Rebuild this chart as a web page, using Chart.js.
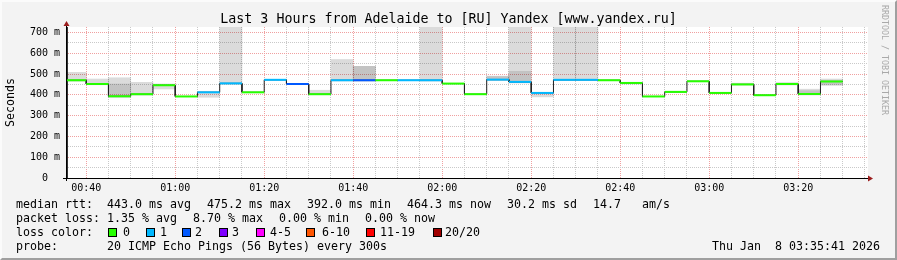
<!DOCTYPE html>
<html lang="en">
<head>
  <meta charset="UTF-8">
  <meta name="viewport" content="width=device-width, initial-scale=1.0">
  <title>Last 3 Hours from Adelaide to [RU] Yandex [www.yandex.ru]</title>
  <style>
    body{margin:0;background:#fff;}
    .frame{position:relative;width:897px;height:260px;background:#f3f3f3;overflow:hidden;
      font-family:'DejaVu Sans Mono',monospace;color:#000;}
    .frame canvas{position:absolute;left:0;top:0;}
    .edge{position:absolute;left:0;top:0;width:897px;height:260px;box-sizing:border-box;pointer-events:none;
      border-left:2px solid #fbfbfb;border-top:2px solid #fbfbfb;border-right:2px solid #9f9f9f;border-bottom:2px solid #9f9f9f;}
    .t{position:absolute;white-space:pre;font-size:11.63px;line-height:14px;}
    .title{position:absolute;left:0;width:897px;top:11px;text-align:center;font-size:13.3px;line-height:16px;white-space:pre;}
    .credit{position:absolute;left:880px;top:5px;writing-mode:vertical-rl;font-size:8.3px;line-height:10px;color:#a9a9a9;white-space:pre;}
    .box{position:absolute;top:228px;width:7px;height:7px;border:1px solid #000;}
  </style>
</head>
<body>
  <div class="frame">
    <canvas id="smoke" width="897" height="260"></canvas>
    <div class="title">Last 3 Hours from Adelaide to [RU] Yandex [www.yandex.ru]</div>
    <div class="credit">RRDTOOL / TOBI OETIKER</div>
    <div id="statLines"></div>
    <div class="t" style="left:16px;top:225px">loss color:</div>
    <div id="lossLegend"></div>
    <div class="t" style="left:16px;top:239px">probe:</div>
    <div class="t" style="left:107px;top:239px">20 ICMP Echo Pings (56 Bytes) every 300s</div>
    <div class="t" style="right:17px;top:239px">Thu Jan  8 03:35:41 2026</div>
    <div class="edge"></div>
  </div>

  <script src="https://cdn.jsdelivr.net/npm/chart.js"></script>
  <script type="text/javascript">
    // 5분 간격 샘플 (구간 끝 시각)
    const sampleTimes = ['00:40','00:45','00:50','00:55','01:00','01:05','01:10','01:15','01:20','01:25',
      '01:30','01:35','01:40','01:45','01:50','01:55','02:00','02:05','02:10','02:15',
      '02:20','02:25','02:30','02:35','02:40','02:45','02:50','02:55','03:00','03:05',
      '03:10','03:15','03:20','03:25','03:30'];
    // median rtt (ms)
    const medians = [470,452,393,403,446,392,412,455,412,472,
      452,403,470,470,470,470,470,454,403,473,
      462,409,472,472,470,457,392,414,465,409,
      450,398,452,404,464];
    // 손실 개수 -> 색상 인덱스
    const lossIdx = [0,0,0,0,0,0,1,1,0,1,
      2,0,1,2,0,1,1,0,0,1,
      1,1,1,1,0,0,0,0,0,0,
      0,0,0,0,0];
    // smoke (ms), 바깥쪽
    const smokeLo = [465,448,386,398,428,null,388,450,null,null,
      null,400,466,466,null,null,466,null,null,470,
      457,390,468,468,null,452,null,null,null,null,
      446,null,447,399,445];
    const smokeHi = [508,476,482,460,452,null,416,800,null,null,
      null,422,570,537,null,null,800,null,null,490,
      800,412,800,800,null,460,null,null,null,null,
      456,null,459,427,476];
    // smoke 안쪽 (진한 부분)
    const innerLo = [null,null,392,null,null,null,null,null,null,null,
      null,null,null,466,null,null,null,null,null,470,
      458,null,null,null,null,null,null,null,null,null,
      null,null,null,402,450];
    const innerHi = [null,null,452,null,null,null,null,null,null,null,
      null,null,null,537,null,null,null,null,null,488,
      513,null,null,null,null,null,null,null,null,null,
      null,null,null,420,470];

    const lossLabels = ['0','1','2','3','4-5','6-10','11-19','20/20'];
    const lossColors = ['#26ff00','#00b8ff','#0059ff','#7e00ff','#ff00ff','#ff5500','#ff0000','#a00000'];
    const yTickValues = [0,50,100,150,200,250,300,350,400,450,500,550,600,650,700];

    // 통계 줄 (텍스트, x 위치)
    const statRtt = [['median rtt:',16],['443.0 ms avg',107],['475.2 ms max',207],['392.0 ms min',307],
      ['464.3 ms now',407],['30.2 ms sd',507],['14.7   am/s',593]];
    const statLoss = [['packet loss:',16],['1.35 % avg',107],['8.70 % max',193],['0.00 % min',279],['0.00 % now',365]];

    const startMin = 35 + 41/60;   // 00:35:41
    const endMin = startMin + 180; // 03:35:41

    function toMin(s){
      const p = s.split(':');
      return Number(p[0])*60 + Number(p[1]);
    }
    function toLabel(m){
      const h = Math.floor(m/60), mm = m%60;
      return String(h).padStart(2,'0') + ':' + String(mm).padStart(2,'0');
    }
    function addText(parent, txt, x, y){
      const t = document.createElement('div');
      t.className = 't';
      t.style.left = x + 'px';
      t.style.top = y + 'px';
      t.textContent = txt;
      parent.appendChild(t);
    }

    const statEl = document.getElementById('statLines');
    statRtt.forEach(p => addText(statEl, p[0], p[1], 197));
    statLoss.forEach(p => addText(statEl, p[0], p[1], 211));

    // loss color legend boxes
    const boxX = [108,146,182,219,256,306,366,433];
    const textX = [123,160,195,232,270,322,380,445];
    const legendEl = document.getElementById('lossLegend');
    lossLabels.forEach(function(lbl, i){
      const b = document.createElement('div');
      b.className = 'box';
      b.style.left = boxX[i] + 'px';
      b.style.background = lossColors[i];
      legendEl.appendChild(b);
      addText(legendEl, lbl, textX[i], 225);
    });

    const ends = sampleTimes.map(toMin);
    const outerData = [], innerData = [], stepPts = [];
    for(let i=0;i<ends.length;i++){
      if(smokeLo[i] !== null) outerData.push({x: ends[i]-2.5, y: [smokeLo[i], smokeHi[i]]});
      if(innerLo[i] !== null) innerData.push({x: ends[i]-2.5, y: [innerLo[i], innerHi[i]]});
      stepPts.push({x: ends[i]-5, y: medians[i]});
      stepPts.push({x: ends[i], y: medians[i]});
    }
    const xTickValues = [];
    for(let m=40;m<=215;m+=5) xTickValues.push(m);

    const mono = "'DejaVu Sans Mono', monospace";

    const frameDeco = {
      id: 'frameDeco',
      beforeDraw(chart){
        const a = chart.chartArea, ctx = chart.ctx;
        ctx.save();
        ctx.fillStyle = '#ffffff';
        ctx.fillRect(a.left, a.top, a.right-a.left, a.bottom-a.top);
        ctx.restore();
      },
      afterDraw(chart){
        const a = chart.chartArea, ctx = chart.ctx;
        ctx.save();
        ctx.strokeStyle = '#000';
        ctx.lineWidth = 1;
        ctx.beginPath();
        ctx.moveTo(a.left-4, a.bottom+0.5); ctx.lineTo(a.right+2, a.bottom+0.5);
        ctx.moveTo(a.left-0.5, a.bottom+3); ctx.lineTo(a.left-0.5, a.top-1);
        ctx.stroke();
        ctx.fillStyle = '#9b1d1d';
        ctx.beginPath();
        ctx.moveTo(a.left-3.5, a.top-1); ctx.lineTo(a.left+2.5, a.top-1); ctx.lineTo(a.left-0.5, a.top-6);
        ctx.closePath(); ctx.fill();
        ctx.beginPath();
        ctx.moveTo(a.right, a.bottom-2.5); ctx.lineTo(a.right, a.bottom+3.5); ctx.lineTo(a.right+5, a.bottom+0.5);
        ctx.closePath(); ctx.fill();
        ctx.restore();
      }
    };

    new Chart(document.getElementById('smoke'), {
      data: {
        datasets: [
          {
            type: 'bar', label: 'smoke', data: outerData,
            backgroundColor: 'rgba(0,0,0,0.14)', borderWidth: 0,
            grouped: false, barPercentage: 1, categoryPercentage: 1, order: 4
          },
          {
            type: 'bar', label: 'smoke inner', data: innerData,
            backgroundColor: 'rgba(0,0,0,0.11)', borderWidth: 0,
            grouped: false, barPercentage: 1, categoryPercentage: 1, order: 3
          },
          {
            type: 'line', label: 'steps', data: stepPts,
            borderColor: '#202020', borderWidth: 1, pointRadius: 0, tension: 0, order: 2
          },
          {
            type: 'line', label: 'median rtt', data: stepPts,
            borderWidth: 2, pointRadius: 0, tension: 0, order: 1,
            borderColor: lossColors[0],
            segment: {
              borderColor: function(ctx){
                const i = ctx.p0DataIndex;
                if(i % 2 === 1) return 'rgba(0,0,0,0)';
                return lossColors[lossIdx[i/2]];
              }
            }
          }
        ]
      },
      options: {
        responsive: false,
        animation: false,
        devicePixelRatio: 1,
        layout: { padding: { left: 0, top: 27, right: 29, bottom: 62 } },
        plugins: { legend: { display: false }, tooltip: { enabled: false }, title: { display: false } },
        scales: {
          x: {
            type: 'linear', min: startMin, max: endMin, offset: false,
            afterBuildTicks: function(scale){ scale.ticks = xTickValues.map(v => ({value: v})); },
            afterFit: function(scale){ scale.height = 20; },
            ticks: {
              autoSkip: false, maxRotation: 0, padding: 4, color: '#000',
              font: { family: mono, size: 10 },
              callback: function(v){ return v % 20 === 0 ? toLabel(v) : ''; }
            },
            grid: {
              drawTicks: false, offset: false,
              color: function(ctx){ return ctx.tick && ctx.tick.value % 20 === 0 ? '#f0a0a0' : '#c9c9c9'; }
            },
            border: { display: true, color: '#000', dash: [1,1] }
          },
          y: {
            type: 'linear', min: 0, max: 726,
            afterBuildTicks: function(scale){ scale.ticks = yTickValues.map(v => ({value: v})); },
            afterFit: function(scale){ scale.width = 67; },
            ticks: {
              autoSkip: false, padding: 7, color: '#000',
              font: { family: mono, size: 10 },
              callback: function(v){ if(v % 100 !== 0) return ''; return v === 0 ? '0  ' : v + ' m'; }
            },
            grid: {
              drawTicks: false,
              color: function(ctx){
                if(!ctx.tick || ctx.tick.value === 0) return 'rgba(0,0,0,0)';
                return ctx.tick.value % 100 === 0 ? '#f0a0a0' : '#c9c9c9';
              }
            },
            border: { display: true, color: '#333', dash: [1,1] },
            title: { display: true, text: 'Seconds', color: '#000', font: { family: mono, size: 11.6 }, padding: { top: 4, bottom: 4 } }
          }
        }
      },
      plugins: [frameDeco]
    });
  </script>
</body>
</html>
